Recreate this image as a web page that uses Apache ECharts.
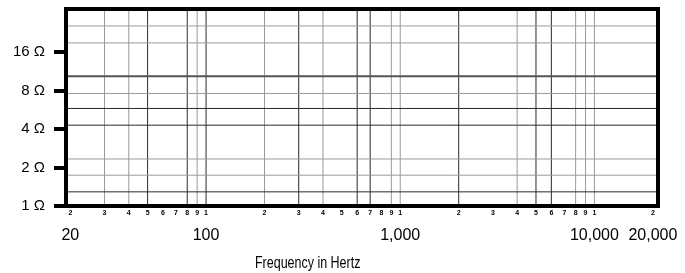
<!DOCTYPE html>
<html>
<head>
<meta charset="utf-8">
<script src="https://cdn.jsdelivr.net/npm/echarts@6/dist/echarts.min.js"></script>
<style>
  html, body { margin: 0; padding: 0; background: #fff; }
  #chart { width: 685px; height: 273px; }
</style>
</head>
<body>
<div id="chart"></div>
<script>
// axis range
const freqMin = 19
const freqMax = 21250
const ohmMin = 1
const ohmMax = 34.6

// small digits under the frame, and the big frequency labels
const freqTicks = [20, 30, 40, 50, 60, 70, 80, 90,
  100, 200, 300, 400, 500, 600, 700, 800, 900,
  1000, 2000, 3000, 4000, 5000, 6000, 7000, 8000, 9000,
  10000, 20000]
const freqLabels = [20, 100, 1000, 10000, 20000]
const ohmTicks = [1, 2, 4, 8, 16]

// vertical grid lines (Hz)
const vDark = [50, 80, 100, 300, 600, 700, 2000, 5000, 6000]
const vGray = [30, 40, 90, 200, 400, 900, 1000, 4000, 8000, 9000, 10000]
// horizontal grid lines (ohms)
const hDark = [1.29, 4.28, 5.78]
const hMid = [10.3]
const hGray = [1.74, 2.33, 7.57, 18.8, 25.5]

const DARK = '#2a2a2a'
const GRAY = '#9a9a9a'

const chart = echarts.init(document.getElementById('chart'))

// one line series per colour, segments split by gaps
function hSeg(values) {
  const out = []
  values.forEach((v) => {
    out.push([freqMin, v], [freqMax, v], ['-', '-'])
  })
  return out
}
function vSeg(values) {
  const out = []
  values.forEach((v) => {
    out.push([v, ohmMin], [v, ohmMax], ['-', '-'])
  })
  return out
}
function gridSeries(data, color, width) {
  return {
    type: 'line',
    data: data,
    silent: true,
    showSymbol: false,
    symbol: 'none',
    connectNulls: false,
    clip: false,
    lineStyle: { color: color, width: width },
    z: 1,
  }
}

function fmtNum(v) {
  return String(v).replace(/\B(?=(\d{3})+(?!\d))/g, ',')
}

chart.setOption({
  animation: false,
  backgroundColor: '#fff',
  textStyle: { fontFamily: 'Liberation Sans, Arial, sans-serif', color: '#000' },
  grid: {
    left: 66,
    right: 27,
    top: 9,
    bottom: 67,
    show: true,
    borderColor: '#000',
    borderWidth: 4,
    z: 10,
  },
  xAxis: [
    {
      type: 'log',
      min: freqMin,
      max: freqMax,
      position: 'bottom',
      axisLine: { show: false, onZero: false },
      axisTick: { show: false },
      splitLine: { show: false },
      axisLabel: {
        customValues: freqTicks,
        fontSize: 7,
        fontWeight: 'bold',
        color: '#000',
        margin: 4,
        formatter: (v) => String(Math.round(v))[0],
      },
    },
    {
      type: 'log',
      min: freqMin,
      max: freqMax,
      position: 'bottom',
      axisLine: { show: false, onZero: false },
      axisTick: { show: false },
      splitLine: { show: false },
      axisLabel: {
        customValues: freqLabels,
        fontSize: 16,
        color: '#000',
        margin: 22,
        formatter: (v) => fmtNum(Math.round(v)),
      },
    },
  ],
  yAxis: {
    type: 'log',
    logBase: 2,
    min: ohmMin,
    max: ohmMax,
    axisLine: { show: false },
    splitLine: { show: false },
    axisTick: {
      show: true,
      customValues: ohmTicks,
      length: 12,
      lineStyle: { color: '#000', width: 4 },
    },
    axisLabel: {
      customValues: ohmTicks,
      fontSize: 15,
      color: '#000',
      margin: 21,
      formatter: (v) => Math.round(v) + ' Ω',
    },
  },
  graphic: [
    {
      type: 'text',
      x: 255,
      y: 256,
      scaleX: 0.78,
      style: {
        text: 'Frequency in Hertz',
        font: '16px "Liberation Sans", Arial, sans-serif',
        fill: '#000',
        verticalAlign: 'top',
      },
    },
  ],
  series: [
    gridSeries(vSeg(vGray), GRAY, 1),
    gridSeries(vSeg(vDark), DARK, 1),
    gridSeries(hSeg(hGray), GRAY, 1),
    gridSeries(hSeg(hDark), DARK, 1),
    gridSeries(hSeg(hMid), '#555', 2),
  ],
})
</script>
</body>
</html>
